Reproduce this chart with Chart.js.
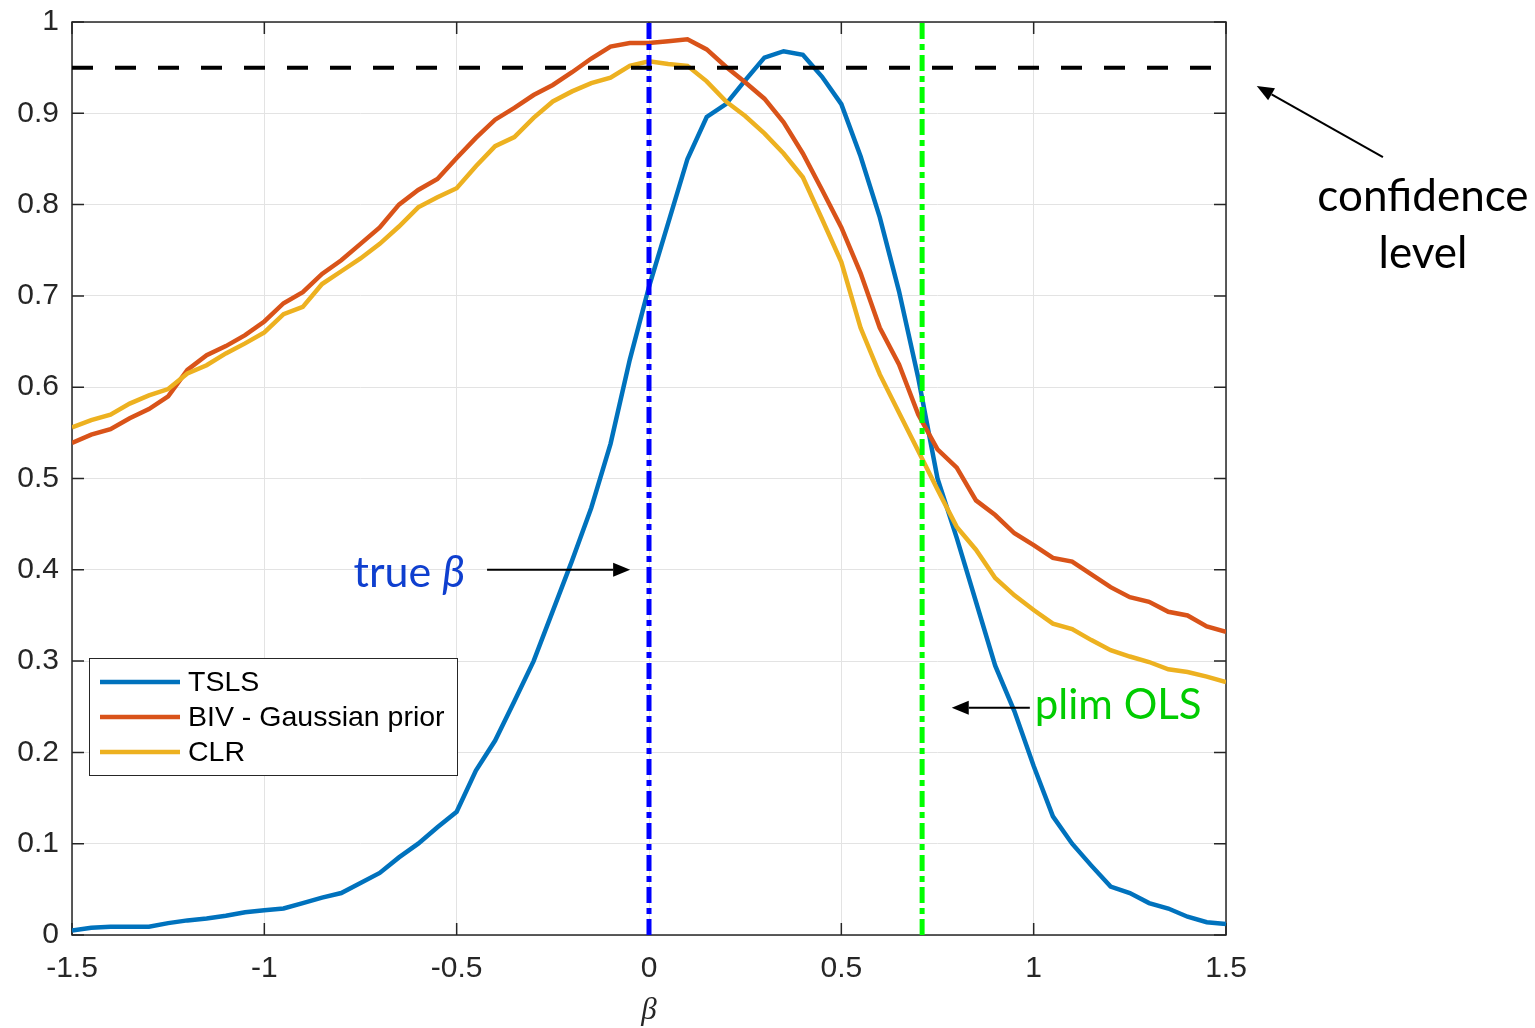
<!DOCTYPE html>
<html>
<head>
<meta charset="utf-8">
<title>Coverage versus beta</title>
<script src="https://cdn.jsdelivr.net/npm/chart.js@4.4.1/dist/chart.umd.min.js"></script>
<style>
  html, body { margin: 0; padding: 0; background: #fff; }
  canvas { display: block; }
</style>
</head>
<body>
<canvas id="myChart" width="1535" height="1028"></canvas>
<script>
// values, one per beta grid point
const beta = [-1.5, -1.45, -1.4, -1.35, -1.3, -1.25, -1.2, -1.15, -1.1, -1.05,
  -1.0, -0.95, -0.9, -0.85, -0.8, -0.75, -0.7, -0.65, -0.6, -0.55,
  -0.5, -0.45, -0.4, -0.35, -0.3, -0.25, -0.2, -0.15, -0.1, -0.05,
  0, 0.05, 0.1, 0.15, 0.2, 0.25, 0.3, 0.35, 0.4, 0.45,
  0.5, 0.55, 0.6, 0.65, 0.7, 0.75, 0.8, 0.85, 0.9, 0.95,
  1.0, 1.05, 1.1, 1.15, 1.2, 1.25, 1.3, 1.35, 1.4, 1.45, 1.5];
const tsls = [0.005, 0.008, 0.009, 0.009, 0.009, 0.013, 0.016, 0.018, 0.021, 0.025,
  0.027, 0.029, 0.035, 0.041, 0.046, 0.057, 0.068, 0.085, 0.100, 0.118,
  0.135, 0.180, 0.213, 0.256, 0.300, 0.355, 0.410, 0.468, 0.538, 0.630,
  0.710, 0.780, 0.850, 0.896, 0.910, 0.936, 0.961, 0.968, 0.964, 0.940,
  0.910, 0.853, 0.786, 0.705, 0.610, 0.500, 0.435, 0.365, 0.295, 0.245,
  0.185, 0.130, 0.100, 0.076, 0.053, 0.046, 0.035, 0.029, 0.020, 0.014, 0.012];
const biv = [0.539, 0.548, 0.554, 0.566, 0.576, 0.590, 0.619, 0.635, 0.645, 0.657,
  0.672, 0.692, 0.704, 0.724, 0.739, 0.757, 0.775, 0.800, 0.816, 0.828,
  0.851, 0.873, 0.893, 0.906, 0.920, 0.931, 0.945, 0.960, 0.973, 0.977,
  0.977, 0.979, 0.981, 0.970, 0.951, 0.934, 0.916, 0.890, 0.856, 0.816,
  0.775, 0.725, 0.665, 0.625, 0.570, 0.532, 0.512, 0.476, 0.460, 0.440,
  0.427, 0.413, 0.409, 0.395, 0.381, 0.370, 0.365, 0.354, 0.350, 0.338, 0.332];
const clr = [0.556, 0.564, 0.570, 0.582, 0.591, 0.598, 0.615, 0.624, 0.637, 0.648,
  0.660, 0.680, 0.688, 0.713, 0.727, 0.741, 0.757, 0.776, 0.797, 0.808,
  0.818, 0.842, 0.864, 0.874, 0.895, 0.913, 0.924, 0.933, 0.939, 0.952,
  0.957, 0.954, 0.952, 0.935, 0.913, 0.897, 0.878, 0.856, 0.830, 0.784,
  0.737, 0.665, 0.614, 0.572, 0.530, 0.488, 0.447, 0.422, 0.391, 0.372,
  0.356, 0.341, 0.335, 0.323, 0.312, 0.305, 0.299, 0.291, 0.288, 0.283, 0.277];
const seriesNames = ["TSLS", "BIV - Gaussian prior", "CLR"];
const confidenceLevel = 0.95;
const trueBeta = 0;
const plimOLS = 0.71;
const xTicks = [-1.5, -1, -0.5, 0, 0.5, 1, 1.5];
const yTicks = [0, 0.1, 0.2, 0.3, 0.4, 0.5, 0.6, 0.7, 0.8, 0.9, 1];

const axisColor = "#262626";
const seriesColors = ["#0072BD", "#D95319", "#EDB120"];

function pts(ys) {
  return beta.map((b, i) => ({ x: b, y: ys[i] }));
}

function arrow(ctx, x1, y1, x2, y2) {
  const ang = Math.atan2(y2 - y1, x2 - x1);
  const len = 17, half = 7;
  const bx = x2 - len * Math.cos(ang), by = y2 - len * Math.sin(ang);
  ctx.beginPath();
  ctx.moveTo(x1, y1);
  ctx.lineTo(bx, by);
  ctx.stroke();
  ctx.beginPath();
  ctx.moveTo(x2, y2);
  ctx.lineTo(bx + half * Math.sin(ang), by - half * Math.cos(ang));
  ctx.lineTo(bx - half * Math.sin(ang), by + half * Math.cos(ang));
  ctx.closePath();
  ctx.fill();
}

// box + inward ticks, MATLAB style
const framePlugin = {
  id: "frame",
  beforeDatasetsDraw(chart) {
    const { ctx, chartArea: a, scales: { x, y } } = chart;
    ctx.save();
    ctx.strokeStyle = axisColor;
    ctx.lineWidth = 1.5;
    ctx.strokeRect(a.left, a.top, a.right - a.left, a.bottom - a.top);
    ctx.beginPath();
    xTicks.forEach(v => {
      const px = x.getPixelForValue(v);
      ctx.moveTo(px, a.bottom); ctx.lineTo(px, a.bottom - 12);
      ctx.moveTo(px, a.top); ctx.lineTo(px, a.top + 12);
    });
    yTicks.forEach(v => {
      const py = y.getPixelForValue(v);
      ctx.moveTo(a.left, py); ctx.lineTo(a.left + 12, py);
      ctx.moveTo(a.right, py); ctx.lineTo(a.right - 12, py);
    });
    ctx.stroke();
    ctx.restore();
  },
  afterDraw(chart) {
    const { ctx, chartArea: a, scales: { x, y } } = chart;
    ctx.save();

    // legend
    const lx = a.left + 17, ly = a.bottom - 277, lw = 368, lh = 117;
    ctx.fillStyle = "#fff";
    ctx.fillRect(lx, ly, lw, lh);
    ctx.strokeStyle = axisColor;
    ctx.lineWidth = 1;
    ctx.strokeRect(lx + 0.5, ly + 0.5, lw, lh);
    ctx.font = "28.5px 'Liberation Sans', Arial, sans-serif";
    ctx.textBaseline = "middle";
    ctx.textAlign = "left";
    seriesNames.forEach((name, i) => {
      const cy = ly + 24 + i * 35;
      ctx.strokeStyle = seriesColors[i];
      ctx.lineWidth = 4.5;
      ctx.beginPath();
      ctx.moveTo(lx + 11, cy);
      ctx.lineTo(lx + 91, cy);
      ctx.stroke();
      ctx.fillStyle = "#000";
      ctx.fillText(name, lx + 99, cy + 1);
    });

    // x axis label
    ctx.fillStyle = axisColor;
    ctx.textAlign = "center";
    ctx.textBaseline = "alphabetic";
    ctx.font = "italic 31px 'Liberation Serif', 'DejaVu Serif', serif";
    ctx.fillText("\u03b2", x.getPixelForValue(0), 1019);

    ctx.strokeStyle = "#000";
    ctx.fillStyle = "#000";
    ctx.lineWidth = 2;

    // true beta
    const tY = y.getPixelForValue(0.4);
    arrow(ctx, x.getPixelForValue(-0.421), tY, x.getPixelForValue(-0.049), tY);
    ctx.fillStyle = "#0f3fcf";
    ctx.textAlign = "left";
    ctx.font = "italic 44px Lato, 'DejaVu Sans', sans-serif";
    const bW = ctx.measureText("\u03b2").width;
    const tRight = x.getPixelForValue(-0.478);
    ctx.fillText("\u03b2", tRight - bW, tY + 17);
    ctx.font = "43px Lato, sans-serif";
    const tW = ctx.measureText("true ").width;
    ctx.fillText("true ", tRight - bW - tW, tY + 17);

    // plim OLS
    ctx.fillStyle = "#000";
    const pY = y.getPixelForValue(0.249);
    arrow(ctx, x.getPixelForValue(0.99), pY, x.getPixelForValue(0.787), pY);
    ctx.fillStyle = "#00cc00";
    ctx.font = "42px Lato, sans-serif";
    ctx.fillText("plim OLS", x.getPixelForValue(1.003), pY + 11);

    // confidence level
    ctx.fillStyle = "#000";
    arrow(ctx, x.getPixelForValue(1.908), y.getPixelForValue(0.852),
      x.getPixelForValue(1.58), y.getPixelForValue(0.930));
    ctx.textAlign = "center";
    ctx.font = "44px Lato, sans-serif";
    ctx.fillText("confidence", x.getPixelForValue(2.012), 211);
    ctx.fillText("level", x.getPixelForValue(2.012), 268);

    ctx.restore();
  }
};

document.addEventListener("DOMContentLoaded", function () {
  const ctx = document.getElementById("myChart").getContext("2d");
  Chart.defaults.font.family = "'Liberation Sans', Arial, sans-serif";
  Chart.defaults.color = axisColor;

  const seriesData = [tsls, biv, clr];
  const datasets = seriesData.map((ys, i) => ({
    label: seriesNames[i],
    data: pts(ys),
    borderColor: seriesColors[i],
    borderWidth: 4.5,
    pointRadius: 0,
    tension: 0,
    order: 3 - i
  }));

  // reference lines
  datasets.push({
    label: "confidence level",
    data: [{ x: -1.5, y: confidenceLevel }, { x: 1.5, y: confidenceLevel }],
    borderColor: "#000",
    borderWidth: 4,
    borderDash: [21, 22],
    pointRadius: 0,
    order: 0
  });
  datasets.push({
    label: "true beta",
    data: [{ x: trueBeta, y: 0 }, { x: trueBeta, y: 1 }],
    borderColor: "#0000ff",
    borderWidth: 5,
    borderDash: [16, 5, 6, 5],
    pointRadius: 0,
    order: 0
  });
  datasets.push({
    label: "plim OLS",
    data: [{ x: plimOLS, y: 0 }, { x: plimOLS, y: 1 }],
    borderColor: "#00ff00",
    borderWidth: 5,
    borderDash: [16, 5, 6, 5],
    pointRadius: 0,
    order: 0
  });

  const myChart = new Chart(ctx, {
    type: "line",
    data: { datasets: datasets },
    options: {
      responsive: false,
      animation: false,
      layout: { padding: { left: 0, top: 22, right: 309, bottom: 0 } },
      plugins: { legend: { display: false }, tooltip: { enabled: false } },
      scales: {
        x: {
          type: "linear",
          min: -1.5,
          max: 1.5,
          afterBuildTicks: s => { s.ticks = xTicks.map(v => ({ value: v })); },
          afterFit: s => { s.height = 93; s.paddingLeft = 0; s.paddingRight = 0; },
          ticks: { font: { size: 30 }, color: axisColor, padding: 16, maxRotation: 0, callback: v => String(v) },
          grid: { color: "#e3e3e3", lineWidth: 1, drawTicks: false },
          border: { display: false }
        },
        y: {
          type: "linear",
          min: 0,
          max: 1,
          afterBuildTicks: s => { s.ticks = yTicks.map(v => ({ value: v })); },
          afterFit: s => { s.width = 72; s.paddingTop = 0; s.paddingBottom = 0; },
          ticks: { font: { size: 30 }, color: axisColor, padding: 13, callback: v => String(v) },
          grid: { color: "#e3e3e3", lineWidth: 1, drawTicks: false },
          border: { display: false }
        }
      }
    },
    plugins: [framePlugin]
  });
});
</script>
</body>
</html>
